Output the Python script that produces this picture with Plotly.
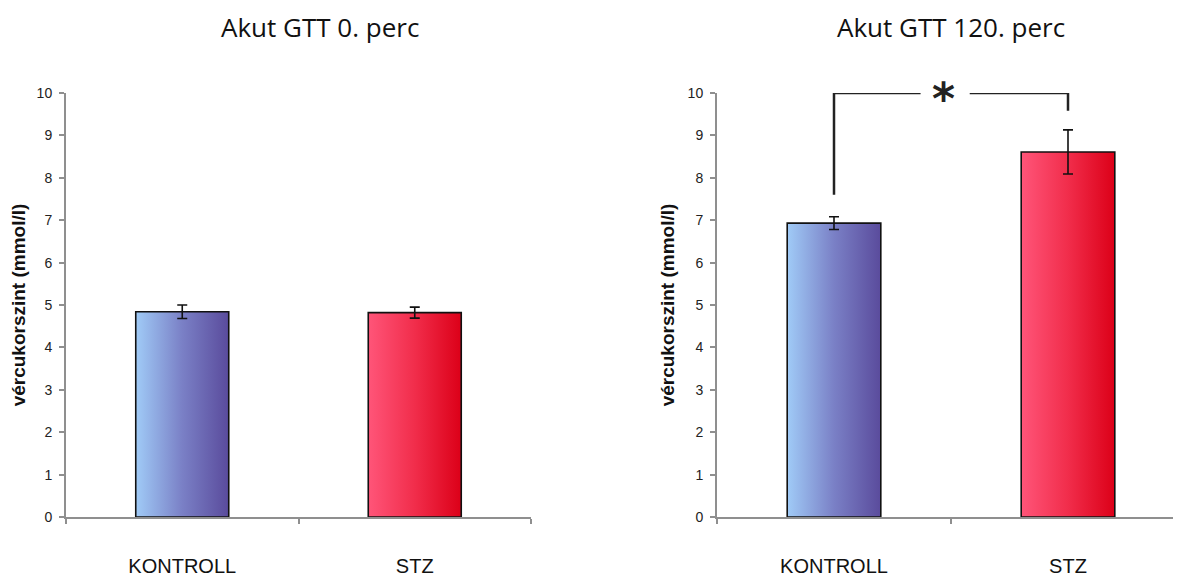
import plotly.graph_objects as go

categories = ["KONTROLL", "STZ"]
titles = ["Akut GTT 0. perc", "Akut GTT 120. perc"]
means_0 = [4.84, 4.82]
err_0 = [0.16, 0.13]
means_120 = [6.93, 8.61]
err_120 = [0.15, 0.52]
y_ticks = list(range(0, 11))
y_title = "vércukorszint (mmol/l)"
sig_label = "*"
sig_levels = [7.6, 10.0, 9.58]  # bracket: left foot, top, right foot

bar_width = 0.4
grad_blue = [[0, "#a0cbf7"], [0.5, "#7a80c6"], [1, "#5a4b9c"]]
grad_red = [[0, "#ff5579"], [0.5, "#f12d4b"], [1, "#dc0018"]]
grads = [grad_blue, grad_red]
axis_gray = "#8f8f8f"

fig = go.Figure()


def add_panel(means, errs, xa, ya):
    for i, v in enumerate(means):
        x0, x1 = i - bar_width / 2, i + bar_width / 2
        fig.add_trace(go.Scatter(
            x=[x0, x0, x1, x1, x0], y=[0, v, v, 0, 0],
            mode="lines", fill="toself",
            fillgradient=dict(type="horizontal", colorscale=grads[i]),
            line=dict(color="#111111", width=1.6),
            xaxis=xa, yaxis=ya, showlegend=False, hoverinfo="skip"))
    fig.add_trace(go.Scatter(
        x=list(range(len(means))), y=means, mode="markers",
        marker=dict(size=1, opacity=0),
        error_y=dict(type="data", array=errs, visible=True,
                     color="#111111", thickness=1.6, width=5),
        xaxis=xa, yaxis=ya, showlegend=False))


add_panel(means_0, err_0, "x", "y")
add_panel(means_120, err_120, "x2", "y2")

# significance bracket on right panel
fig.add_trace(go.Scatter(
    x=[0, 0, 0.37], y=[sig_levels[0], sig_levels[1], sig_levels[1]],
    mode="lines", line=dict(color="#222222", width=2.5),
    xaxis="x2", yaxis="y2", showlegend=False, cliponaxis=False, hoverinfo="skip"))
fig.add_trace(go.Scatter(
    x=[0.58, 1, 1], y=[sig_levels[1], sig_levels[1], sig_levels[2]],
    mode="lines", line=dict(color="#222222", width=2.5),
    xaxis="x2", yaxis="y2", showlegend=False, cliponaxis=False, hoverinfo="skip"))

# page body has an 8px margin: work in figure pixels = screen pixels - 8
OFF = 8
W, H = 1181 - OFF, 579 - OFF
top_px, bot_px = 93 - OFF, 517 - OFF
ydom = [1 - bot_px / H, 1 - top_px / H]

xcommon = dict(
    showline=True, linecolor=axis_gray, linewidth=2,
    tickvals=[0, 1], ticktext=categories, ticks="",
    ticklabelstandoff=30, automargin=False,
    tickfont=dict(family="Liberation Sans, Arial", size=20, color="#111111"),
    minor=dict(tickvals=[-0.5, 0.5, 1.5], ticks="outside", ticklen=5,
               tickcolor=axis_gray, tickwidth=1.5),
    showgrid=False, zeroline=False, fixedrange=True)
ycommon = dict(
    range=[0, 10], tickvals=y_ticks, ticks="outside", ticklen=5,
    tickcolor=axis_gray, tickwidth=1.5, automargin=False,
    ticklabelstandoff=4,
    showline=True, linecolor=axis_gray, linewidth=2,
    tickfont=dict(family="Liberation Sans, Arial", size=14, color="#222222"),
    title=dict(text="<b>" + y_title + "</b>", standoff=8,
               font=dict(family="Liberation Sans, Arial", size=19, color="#111111")),
    showgrid=False, zeroline=False, fixedrange=True)

fig.update_layout(
    width=W, height=H,
    margin=dict(l=0, r=0, t=0, b=0, autoexpand=False),
    paper_bgcolor="white", plot_bgcolor="white",
    xaxis=dict(domain=[(66 - OFF) / W, (531 - OFF) / W], range=[-0.5, 1.5], anchor="y", **xcommon),
    yaxis=dict(domain=ydom, anchor="x", **ycommon),
    xaxis2=dict(domain=[(717 - OFF) / W, 1.0], range=[-0.5, 1.5 - 4 / 234], anchor="y2", **xcommon),
    yaxis2=dict(domain=ydom, anchor="x2", **ycommon),
)

for t, cx in zip(titles, [320, 951]):
    fig.add_annotation(text=t, x=(cx - OFF) / W, y=1 - (27 - OFF) / H,
                       xref="paper", yref="paper", xanchor="center", yanchor="middle",
                       showarrow=False,
                       font=dict(family="Open Sans", size=26, color="#111111"))
fig.add_annotation(text="<b>" + sig_label + "</b>", x=0.47, y=sig_levels[1], xref="x2", yref="y2",
                   xanchor="center", yanchor="middle",
                   showarrow=False, yshift=-5,
                   font=dict(family="DejaVu Sans", size=44, color="#222222"))

fig.write_html("out.html")
